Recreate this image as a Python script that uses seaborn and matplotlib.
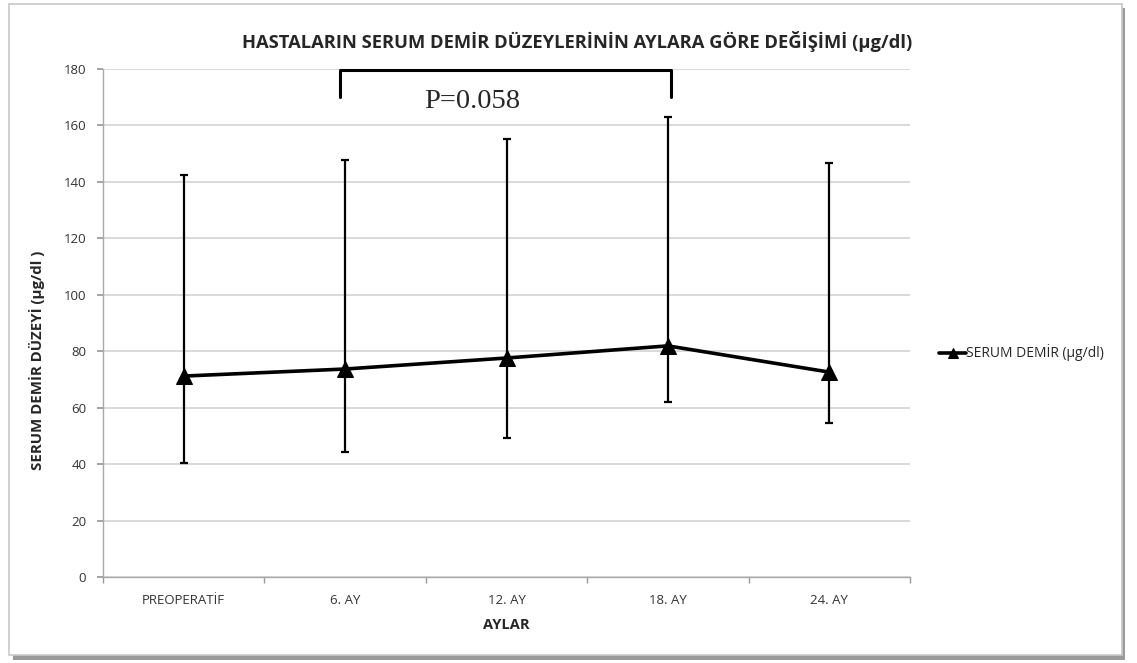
import numpy as np
import pandas as pd
import matplotlib
matplotlib.use("Agg")
import matplotlib.pyplot as plt
import seaborn as sns
from matplotlib.patches import Rectangle

# data
months = ["PREOPERATİF", "6. AY", "12. AY", "18. AY", "24. AY"]
serum_iron = [71.2, 73.7, 77.6, 81.9, 72.6]
err_top = [142.4, 147.8, 155.2, 163.0, 146.7]
err_bottom = [40.4, 44.3, 49.3, 62.0, 54.6]
yticks = list(range(0, 181, 20))

df = pd.DataFrame({"AYLAR": months, "SERUM": serum_iron})

sns.set_theme(style="white")
plt.rcParams["font.family"] = ["Open Sans", "DejaVu Sans"]

fig = plt.figure(figsize=(11.37, 6.63), dpi=100)
ax = fig.add_axes([0.0906, 0.1297, 0.7098, 0.7662])

# outer frame with a soft shadow
fig.patches.append(Rectangle((13 / 1137, 1 - 660 / 663), 1112 / 1137, 652 / 663,
                             transform=fig.transFigure, facecolor="#9a9a9a",
                             edgecolor="none", zorder=-2))
fig.patches.append(Rectangle((9 / 1137, 1 - 655 / 663), 1113 / 1137, 651 / 663,
                             transform=fig.transFigure, facecolor="white",
                             edgecolor="#c8c8c8", lw=1.2, zorder=-1))

x = np.arange(len(months))
mean = np.array(serum_iron)
yerr = [mean - np.array(err_bottom), np.array(err_top) - mean]
ax.errorbar(x, mean, yerr=yerr, fmt="none", ecolor="black", elinewidth=1.6,
            capsize=3, capthick=1.6, zorder=3)

sns.lineplot(data=df, x="AYLAR", y="SERUM", ax=ax, color="black", lw=2.6,
             marker="^", markersize=11, markeredgecolor="black",
             label="SERUM DEMİR (µg/dl)", sort=False, zorder=4)

ax.set_xlim(-0.5, len(months) - 0.5)
ax.set_ylim(0, 180)
ax.set_yticks(yticks)
ax.set_xticks(x)
ax.set_xticklabels(months)
ax.set_xticks(np.arange(len(months) + 1) - 0.5, minor=True)
ax.tick_params(axis="x", which="major", length=0, pad=12, labelsize=9.5, labelcolor="#333333")
ax.tick_params(axis="x", which="minor", length=4, color="#999999", direction="out", bottom=True)
ax.tick_params(axis="y", length=4, color="#999999", direction="out", left=True,
               labelsize=9.5, labelcolor="#333333", pad=8)
ax.yaxis.grid(True, color="#cfcfcf", lw=1.1)
ax.xaxis.grid(False)
for s in ["top", "right"]:
    ax.spines[s].set_visible(False)
for s in ["left", "bottom"]:
    ax.spines[s].set_color("#aaaaaa")
    ax.spines[s].set_linewidth(1)

ax.set_xlabel("AYLAR", fontsize=10.5, fontweight="bold", labelpad=8)
ax.set_ylabel("SERUM DEMİR DÜZEYİ (µg/dl )", fontsize=10.8, fontweight="bold")
ax.yaxis.set_label_coords(-0.072, 0.427)
fig.text(0.508, 0.937, "HASTALARIN SERUM DEMİR DÜZEYLERİNİN AYLARA GÖRE DEĞİŞİMİ (µg/dl)",
         ha="center", va="center", fontsize=13.2, fontweight="bold")

# significance bracket between 6. AY and 18. AY
ax.plot([0.97, 0.97, 3.02, 3.02], [170, 179.5, 179.5, 170], color="black", lw=2.2,
        clip_on=False, zorder=5)
ax.text(1.79, 168.5, "P=0.058", ha="center", va="center", fontsize=20.5,
        family=["Liberation Serif", "DejaVu Serif"],
        bbox=dict(facecolor="white", edgecolor="none", pad=4), zorder=4)

ax.legend(loc="center left", bbox_to_anchor=(1.02, 0.441), frameon=False,
          fontsize=10, handlelength=2.0, handletextpad=0.0, markerscale=0.7)

fig.savefig("out.png", dpi=100)
